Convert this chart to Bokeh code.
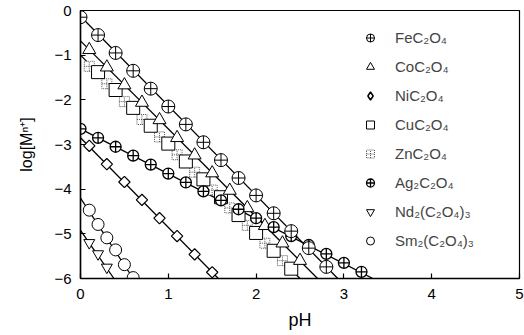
from bokeh.plotting import figure
from bokeh.models import Range1d, Legend, LegendItem, FixedTicker
from bokeh.embed import file_html
from bokeh.resources import INLINE
import math

# ---- data ----
fe_x = [0.0, 0.2, 0.4, 0.6, 0.8, 1.0, 1.2, 1.4, 1.6, 1.8, 2.0, 2.2, 2.4, 2.6, 2.8]
fe_y = [-0.15, -0.55, -0.95, -1.35, -1.75, -2.15, -2.55, -2.95, -3.35, -3.75, -4.14, -4.54, -4.94, -5.32, -5.74]
fe_line_x = [0.0, 2.93]
fe_line_y = [-0.13, -6.0]

co_x = [0.1, 0.3, 0.5, 0.7, 0.9, 1.1, 1.3, 1.5, 1.7, 1.9, 2.1, 2.3, 2.5]
co_y = [-0.88, -1.27, -1.67, -2.06, -2.45, -2.85, -3.24, -3.64, -4.03, -4.42, -4.82, -5.21, -5.6]
co_line_x = [0.0, 2.7]
co_line_y = [-0.68, -6.0]

ni_x = [0.1, 0.3, 0.5, 0.7, 0.9, 1.1, 1.3, 1.5]
ni_y = [-3.03, -3.44, -3.84, -4.24, -4.65, -5.05, -5.46, -5.86]
ni_line_x = [0.0, 1.57]
ni_line_y = [-2.85, -6.0]

cu_x = [0.2, 0.4, 0.6, 0.8, 1.0, 1.2, 1.4, 1.6, 1.8, 2.0, 2.2, 2.4]
cu_y = [-1.38, -1.78, -2.18, -2.58, -2.98, -3.38, -3.78, -4.18, -4.58, -4.98, -5.38, -5.78]
cu_line_x = [0.0, 2.5]
cu_line_y = [-1.0, -6.0]

zn_x = [0.1, 0.3, 0.5, 0.7, 0.9, 1.1, 1.3, 1.5, 1.7, 1.9, 2.1, 2.3]
zn_y = [-1.25, -1.64, -2.04, -2.44, -2.83, -3.23, -3.62, -4.02, -4.42, -4.81, -5.21, -5.6]

ag_x = [0.0, 0.2, 0.4, 0.6, 0.8, 1.0, 1.2, 1.4, 1.6, 1.8, 2.0, 2.2, 2.4, 2.6, 2.8, 3.0, 3.2]
ag_y = [-2.65, -2.85, -3.05, -3.25, -3.45, -3.65, -3.85, -4.05, -4.25, -4.45, -4.65, -4.85, -5.05, -5.25, -5.45, -5.65, -5.85]
ag_line_x = [0.0, 3.33]
ag_line_y = [-2.65, -6.0]

nd_x = [0.1, 0.2, 0.3]
nd_y = [-5.2, -5.45, -5.75]
nd_line_x = [0.0, 0.38]
nd_line_y = [-4.92, -6.0]

sm_x = [0.1, 0.2, 0.3, 0.4, 0.5, 0.6]
sm_y = [-4.47, -4.79, -5.09, -5.36, -5.69, -5.98]
sm_line_x = [0.0, 0.6]
sm_line_y = [-4.2, -6.0]

x_ticks = [0, 1, 2, 3, 4, 5]
y_ticks = [0, -1, -2, -3, -4, -5, -6]

labels = ["FeC₂O₄", "CoC₂O₄", "NiC₂O₄", "CuC₂O₄", "ZnC₂O₄",
          "Ag₂C₂O₄", "Nd₂(C₂O₄)₃", "Sm₂(C₂O₄)₃"]

FONT = "Liberation Sans"

p = figure(width=524, height=335, output_backend="svg", toolbar_location=None,
           x_range=Range1d(0, 5), y_range=Range1d(-6, 0),
           min_border_left=80, min_border_right=5, min_border_top=10, min_border_bottom=57)
p.grid.visible = False
p.outline_line_color = "black"
p.outline_line_width = 1.2
p.background_fill_color = "white"
p.border_fill_color = "white"

for ax in (p.xaxis[0], p.yaxis[0]):
    ax.major_tick_in = 5
    ax.major_tick_out = 0
    ax.minor_tick_line_color = None
    ax.axis_line_width = 1.5
    ax.major_tick_line_width = 1.2
    ax.major_label_text_font = FONT
    ax.major_label_text_font_size = "15px"
    ax.major_label_text_color = "black"
    ax.axis_label_text_font = FONT
    ax.axis_label_text_font_style = "normal"
    ax.axis_label_text_color = "black"

p.xaxis.ticker = FixedTicker(ticks=x_ticks)
p.yaxis.ticker = FixedTicker(ticks=y_ticks)
p.xaxis.axis_label = "pH"
p.yaxis.axis_label = "log[Mⁿ⁺]"
p.xaxis.axis_label_text_font_size = "18px"
p.yaxis.axis_label_text_font_size = "16px"
p.xaxis.major_label_standoff = 10
p.xaxis.axis_label_standoff = 8
p.yaxis.major_label_standoff = 9
p.yaxis.axis_label_standoff = 16

# fitted lines
for lx, ly in [(fe_line_x, fe_line_y), (co_line_x, co_line_y), (cu_line_x, cu_line_y),
               (ag_line_x, ag_line_y), (ni_line_x, ni_line_y), (nd_line_x, nd_line_y),
               (sm_line_x, sm_line_y)]:
    p.line(lx, ly, line_color="black", line_width=1.3)

common = dict(fill_color="white", line_color="black")
r_zn = p.scatter(zn_x, zn_y, marker="square_cross", size=10, fill_color="white",
                 line_color="#555555", line_dash="1 1", line_width=1)
r_cu = p.scatter(cu_x, cu_y, marker="square", size=13, line_width=1, **common)
r_co = p.scatter(co_x, co_y, marker="triangle", size=13, line_width=1, **common)
# Ni: narrow diamond used for the legend (hidden beneath the rotated squares drawn on top)
r_ni_leg = p.scatter(ni_x, ni_y, marker="diamond", size=8, line_width=1.5, **common)
r_ni = p.scatter(ni_x, ni_y, marker="square", size=8, angle=math.pi / 4,
                 line_width=1.2, **common)
r_ag = p.scatter(ag_x, ag_y, marker="circle_cross", size=11, line_width=1.3, **common)
r_fe = p.scatter(fe_x, fe_y, marker="circle_cross", size=13, line_width=1, **common)
r_nd = p.scatter(nd_x, nd_y, marker="inverted_triangle", size=11, line_width=1, **common)
r_sm = p.scatter(sm_x, sm_y, marker="circle", size=12, line_width=1, **common)

renderers = [r_fe, r_co, r_ni_leg, r_cu, r_zn, r_ag, r_nd, r_sm]
items = [LegendItem(label=l, renderers=[r]) for l, r in zip(labels, renderers)]
legend = Legend(items=items, location=(280, 27), orientation="vertical",
                border_line_color=None, background_fill_alpha=0,
                padding=0, margin=0, spacing=8, glyph_width=20, glyph_height=21,
                label_height=21, label_standoff=15,
                label_text_font=FONT, label_text_font_size="15px")
p.add_layout(legend, "center")

open("out.html", "w").write(file_html(p, INLINE))
